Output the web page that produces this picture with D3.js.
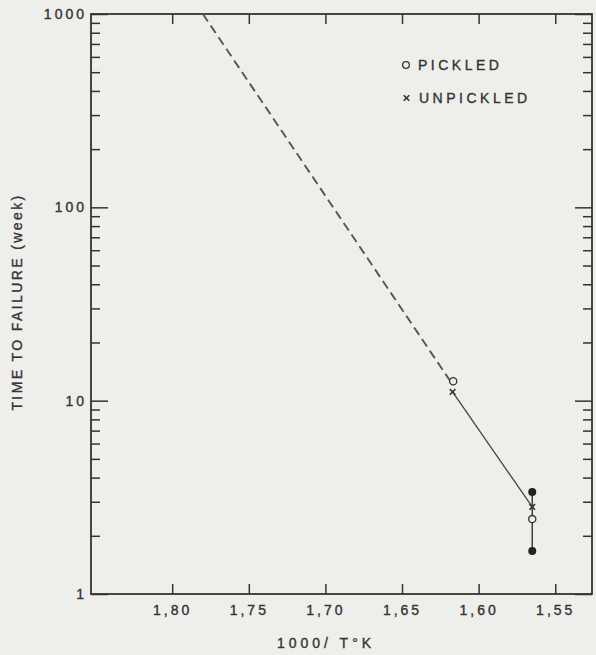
<!DOCTYPE html>
<html>
<head>
<meta charset="utf-8">
<script src="https://cdn.jsdelivr.net/npm/d3@7"></script>
<style>
  body { margin: 0; background: #eeeeeb; }
  svg { display: block; }
  text { font-family: "Liberation Sans", Arial, sans-serif; fill: #333; stroke: #333; stroke-width: 0.35; }
  .axis text { font-size: 14px; letter-spacing: 3px; }
  .axis line { stroke: #333; stroke-width: 1.5; }
</style>
</head>
<body>
<script>
// tick values
var xTicks = [1.80, 1.75, 1.70, 1.65, 1.60, 1.55];
var xTickLabels = ["1,80", "1,75", "1,70", "1,65", "1,60", "1,55"];
var yMajor = [1, 10, 100, 1000];
var yMajorLabels = ["1", "10", "100", "1000"];

// data (1000/T in 1/K, time in weeks)
var pickledT = [1.6166, 1.565];
var pickledWeeks = [12.6, 2.44];
var unpickledT = [1.617, 1.565];
var unpickledWeeks = [11.1, 2.82];
var rangeT = [1.565];
var rangeLow = [1.67];
var rangeHigh = [3.37];
// extrapolated (dashed) part of the fit
var dashedT = [1.780, 1.619];
var dashedWeeks = [1000, 12.8];

var W = 596, H = 655;
var m = {left: 91, right: 592, top: 14, bottom: 594};

var svg = d3.select("body").append("svg").attr("width", W).attr("height", H);

var x = d3.scaleLinear().domain([1.853, 1.526]).range([m.left, m.right]);
var y = d3.scaleLog().domain([1, 1000]).range([m.bottom, m.top]);

// minor ticks 2..9 of each decade
var yMinor = [];
[1, 10, 100].forEach(function(d){
  for (var k = 2; k <= 9; k++) yMinor.push(d * k);
});

function noDomain(g){ g.select(".domain").remove(); }

// left axis
svg.append("g").attr("class", "axis").attr("transform", `translate(${m.left},0)`)
  .call(d3.axisLeft(y).tickValues(yMinor).tickSize(-9).tickFormat(""))
  .call(noDomain);
svg.append("g").attr("class", "axis").attr("transform", `translate(${m.left},0)`)
  .call(d3.axisLeft(y).tickValues(yMajor).tickSize(-17).tickPadding(4)
    .tickFormat(function(d, i){ return yMajorLabels[i]; }))
  .call(noDomain);

// right axis
svg.append("g").attr("class", "axis").attr("transform", `translate(${m.right},0)`)
  .call(d3.axisRight(y).tickValues(yMinor).tickSize(-9).tickFormat(""))
  .call(noDomain);
svg.append("g").attr("class", "axis").attr("transform", `translate(${m.right},0)`)
  .call(d3.axisRight(y).tickValues(yMajor).tickSize(-17).tickFormat(""))
  .call(noDomain);

// bottom axis
svg.append("g").attr("class", "axis").attr("transform", `translate(0,${m.bottom})`)
  .call(d3.axisBottom(x).tickValues(xTicks).tickSize(-10).tickPadding(11)
    .tickFormat(function(d, i){ return xTickLabels[i]; }))
  .call(noDomain);

// top axis
svg.append("g").attr("class", "axis").attr("transform", `translate(0,${m.top})`)
  .call(d3.axisTop(x).tickValues(xTicks).tickSize(-10).tickFormat(""))
  .call(noDomain);

// frame
svg.append("rect")
  .attr("x", m.left).attr("y", m.top)
  .attr("width", m.right - m.left).attr("height", m.bottom - m.top)
  .attr("fill", "none").attr("stroke", "#333").attr("stroke-width", 1.8);

var line = d3.line()
  .x(function(d){ return x(d[0]); })
  .y(function(d){ return y(d[1]); });

// dashed extrapolation
svg.append("path")
  .datum(d3.zip(dashedT, dashedWeeks))
  .attr("d", line)
  .attr("fill", "none").attr("stroke", "#555").attr("stroke-width", 1.9)
  .attr("stroke-dasharray", "9,5");

// solid line through unpickled points
svg.append("path")
  .datum(d3.zip(unpickledT, unpickledWeeks))
  .attr("d", line)
  .attr("fill", "none").attr("stroke", "#444").attr("stroke-width", 1.3);

// scatter range bar
var rng = svg.selectAll(".rng").data(d3.range(rangeT.length)).enter().append("g");
rng.append("line")
  .attr("x1", function(i){ return x(rangeT[i]); })
  .attr("x2", function(i){ return x(rangeT[i]); })
  .attr("y1", function(i){ return y(rangeLow[i]); })
  .attr("y2", function(i){ return y(rangeHigh[i]); })
  .attr("stroke", "#333").attr("stroke-width", 1.4);
rng.append("circle")
  .attr("cx", function(i){ return x(rangeT[i]); })
  .attr("cy", function(i){ return y(rangeLow[i]); })
  .attr("r", 4).attr("fill", "#222");
rng.append("circle")
  .attr("cx", function(i){ return x(rangeT[i]); })
  .attr("cy", function(i){ return y(rangeHigh[i]); })
  .attr("r", 4).attr("fill", "#222");

// pickled = open circles
svg.selectAll(".pk").data(d3.zip(pickledT, pickledWeeks)).enter().append("circle")
  .attr("cx", function(d){ return x(d[0]); })
  .attr("cy", function(d){ return y(d[1]); })
  .attr("r", 3.6).attr("fill", "#eeeeeb").attr("stroke", "#333").attr("stroke-width", 1.3);

// unpickled = x marks
var xMark = "M-2.8,-2.8L2.8,2.8M2.8,-2.8L-2.8,2.8";
svg.selectAll(".up").data(d3.zip(unpickledT, unpickledWeeks)).enter().append("path")
  .attr("transform", function(d){ return `translate(${x(d[0])},${y(d[1])})`; })
  .attr("d", xMark).attr("stroke", "#333").attr("stroke-width", 1.6).attr("fill", "none");

// legend
svg.append("circle").attr("cx", 406).attr("cy", 65).attr("r", 3.4)
  .attr("fill", "none").attr("stroke", "#333").attr("stroke-width", 1.3);
svg.append("text").text("PICKLED").attr("x", 418).attr("y", 70)
  .attr("font-size", 14).attr("letter-spacing", 3.5);
svg.append("path").attr("transform", "translate(406.5,98)").attr("d", xMark)
  .attr("stroke", "#333").attr("stroke-width", 1.6);
svg.append("text").text("UNPICKLED").attr("x", 419).attr("y", 103)
  .attr("font-size", 14).attr("letter-spacing", 3.5);

// axis titles
svg.append("text").text("TIME TO FAILURE (week)")
  .attr("transform", "translate(22,302) rotate(-90)")
  .attr("text-anchor", "middle").attr("font-size", 14).attr("letter-spacing", 2.4);

svg.append("text").text("1000/ T°K")
  .attr("x", 326).attr("y", 648)
  .attr("text-anchor", "middle").attr("font-size", 14).attr("letter-spacing", 4);
</script>
</body>
</html>
